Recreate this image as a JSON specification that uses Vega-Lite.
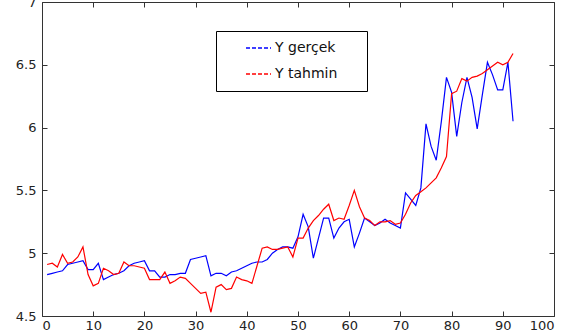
{
  "$schema": "https://vega.github.io/schema/vega-lite/v6.json",
  "width": 512,
  "height": 314,
  "autosize": "none",
  "padding": {"left": 42, "top": 2, "right": 22, "bottom": 17},
  "background": "white",
  "config": {
    "view": {"stroke": null},
    "font": "DejaVu Sans",
    "axis": {
      "grid": false,
      "domainColor": "#333333",
      "domainWidth": 1,
      "tickColor": "#333333",
      "tickWidth": 1,
      "labelColor": "#222222",
      "labelFont": "DejaVu Sans",
      "labelFontSize": 12,
      "tickSize": 5,
      "title": null
    },
    "legend": {
      "orient": "none",
      "legendX": 174,
      "legendY": 29,
      "strokeColor": "#000000",
      "fillColor": "white",
      "padding": 9,
      "symbolType": "stroke",
      "symbolSize": 625,
      "symbolStrokeWidth": 1.5,
      "symbolDash": [4, 2],
      "symbolOffset": 20,
      "labelOffset": 3,
      "clipHeight": 16,
      "labelFont": "DejaVu Sans",
      "labelFontSize": 14,
      "labelColor": "#111111",
      "rowPadding": 10,
      "title": null
    }
  },
  "data": {
    "values": [
      {"x":1,"v":4.83,"s":"Y gerçek"},{"x":2,"v":4.84,"s":"Y gerçek"},{"x":3,"v":4.85,"s":"Y gerçek"},{"x":4,"v":4.86,"s":"Y gerçek"},{"x":5,"v":4.91,"s":"Y gerçek"},{"x":6,"v":4.92,"s":"Y gerçek"},{"x":7,"v":4.93,"s":"Y gerçek"},{"x":8,"v":4.94,"s":"Y gerçek"},{"x":9,"v":4.87,"s":"Y gerçek"},{"x":10,"v":4.87,"s":"Y gerçek"},
      {"x":11,"v":4.92,"s":"Y gerçek"},{"x":12,"v":4.79,"s":"Y gerçek"},{"x":13,"v":4.81,"s":"Y gerçek"},{"x":14,"v":4.83,"s":"Y gerçek"},{"x":15,"v":4.84,"s":"Y gerçek"},{"x":16,"v":4.86,"s":"Y gerçek"},{"x":17,"v":4.90,"s":"Y gerçek"},{"x":18,"v":4.92,"s":"Y gerçek"},{"x":19,"v":4.93,"s":"Y gerçek"},{"x":20,"v":4.94,"s":"Y gerçek"},
      {"x":21,"v":4.86,"s":"Y gerçek"},{"x":22,"v":4.86,"s":"Y gerçek"},{"x":23,"v":4.81,"s":"Y gerçek"},{"x":24,"v":4.81,"s":"Y gerçek"},{"x":25,"v":4.83,"s":"Y gerçek"},{"x":26,"v":4.83,"s":"Y gerçek"},{"x":27,"v":4.84,"s":"Y gerçek"},{"x":28,"v":4.84,"s":"Y gerçek"},{"x":29,"v":4.95,"s":"Y gerçek"},{"x":30,"v":4.96,"s":"Y gerçek"},
      {"x":31,"v":4.97,"s":"Y gerçek"},{"x":32,"v":4.98,"s":"Y gerçek"},{"x":33,"v":4.82,"s":"Y gerçek"},{"x":34,"v":4.84,"s":"Y gerçek"},{"x":35,"v":4.84,"s":"Y gerçek"},{"x":36,"v":4.82,"s":"Y gerçek"},{"x":37,"v":4.85,"s":"Y gerçek"},{"x":38,"v":4.86,"s":"Y gerçek"},{"x":39,"v":4.88,"s":"Y gerçek"},{"x":40,"v":4.90,"s":"Y gerçek"},
      {"x":41,"v":4.92,"s":"Y gerçek"},{"x":42,"v":4.93,"s":"Y gerçek"},{"x":43,"v":4.93,"s":"Y gerçek"},{"x":44,"v":4.95,"s":"Y gerçek"},{"x":45,"v":5.00,"s":"Y gerçek"},{"x":46,"v":5.03,"s":"Y gerçek"},{"x":47,"v":5.05,"s":"Y gerçek"},{"x":48,"v":5.05,"s":"Y gerçek"},{"x":49,"v":5.04,"s":"Y gerçek"},{"x":50,"v":5.13,"s":"Y gerçek"},
      {"x":51,"v":5.31,"s":"Y gerçek"},{"x":52,"v":5.21,"s":"Y gerçek"},{"x":53,"v":4.96,"s":"Y gerçek"},{"x":54,"v":5.12,"s":"Y gerçek"},{"x":55,"v":5.28,"s":"Y gerçek"},{"x":56,"v":5.28,"s":"Y gerçek"},{"x":57,"v":5.12,"s":"Y gerçek"},{"x":58,"v":5.20,"s":"Y gerçek"},{"x":59,"v":5.25,"s":"Y gerçek"},{"x":60,"v":5.27,"s":"Y gerçek"},
      {"x":61,"v":5.05,"s":"Y gerçek"},{"x":62,"v":5.16,"s":"Y gerçek"},{"x":63,"v":5.28,"s":"Y gerçek"},{"x":64,"v":5.25,"s":"Y gerçek"},{"x":65,"v":5.22,"s":"Y gerçek"},{"x":66,"v":5.24,"s":"Y gerçek"},{"x":67,"v":5.27,"s":"Y gerçek"},{"x":68,"v":5.24,"s":"Y gerçek"},{"x":69,"v":5.22,"s":"Y gerçek"},{"x":70,"v":5.20,"s":"Y gerçek"},
      {"x":71,"v":5.48,"s":"Y gerçek"},{"x":72,"v":5.43,"s":"Y gerçek"},{"x":73,"v":5.38,"s":"Y gerçek"},{"x":74,"v":5.52,"s":"Y gerçek"},{"x":75,"v":6.03,"s":"Y gerçek"},{"x":76,"v":5.85,"s":"Y gerçek"},{"x":77,"v":5.74,"s":"Y gerçek"},{"x":78,"v":6.05,"s":"Y gerçek"},{"x":79,"v":6.40,"s":"Y gerçek"},{"x":80,"v":6.28,"s":"Y gerçek"},
      {"x":81,"v":5.93,"s":"Y gerçek"},{"x":82,"v":6.20,"s":"Y gerçek"},{"x":83,"v":6.40,"s":"Y gerçek"},{"x":84,"v":6.24,"s":"Y gerçek"},{"x":85,"v":5.99,"s":"Y gerçek"},{"x":86,"v":6.26,"s":"Y gerçek"},{"x":87,"v":6.52,"s":"Y gerçek"},{"x":88,"v":6.42,"s":"Y gerçek"},{"x":89,"v":6.30,"s":"Y gerçek"},{"x":90,"v":6.30,"s":"Y gerçek"},
      {"x":91,"v":6.52,"s":"Y gerçek"},{"x":92,"v":6.05,"s":"Y gerçek"},
      {"x":1,"v":4.91,"s":"Y tahmin"},{"x":2,"v":4.92,"s":"Y tahmin"},{"x":3,"v":4.89,"s":"Y tahmin"},{"x":4,"v":4.99,"s":"Y tahmin"},{"x":5,"v":4.92,"s":"Y tahmin"},{"x":6,"v":4.93,"s":"Y tahmin"},{"x":7,"v":4.97,"s":"Y tahmin"},{"x":8,"v":5.05,"s":"Y tahmin"},{"x":9,"v":4.83,"s":"Y tahmin"},{"x":10,"v":4.74,"s":"Y tahmin"},
      {"x":11,"v":4.76,"s":"Y tahmin"},{"x":12,"v":4.88,"s":"Y tahmin"},{"x":13,"v":4.86,"s":"Y tahmin"},{"x":14,"v":4.83,"s":"Y tahmin"},{"x":15,"v":4.84,"s":"Y tahmin"},{"x":16,"v":4.93,"s":"Y tahmin"},{"x":17,"v":4.90,"s":"Y tahmin"},{"x":18,"v":4.90,"s":"Y tahmin"},{"x":19,"v":4.89,"s":"Y tahmin"},{"x":20,"v":4.88,"s":"Y tahmin"},
      {"x":21,"v":4.79,"s":"Y tahmin"},{"x":22,"v":4.79,"s":"Y tahmin"},{"x":23,"v":4.79,"s":"Y tahmin"},{"x":24,"v":4.85,"s":"Y tahmin"},{"x":25,"v":4.76,"s":"Y tahmin"},{"x":26,"v":4.78,"s":"Y tahmin"},{"x":27,"v":4.81,"s":"Y tahmin"},{"x":28,"v":4.80,"s":"Y tahmin"},{"x":29,"v":4.76,"s":"Y tahmin"},{"x":30,"v":4.72,"s":"Y tahmin"},
      {"x":31,"v":4.68,"s":"Y tahmin"},{"x":32,"v":4.69,"s":"Y tahmin"},{"x":33,"v":4.53,"s":"Y tahmin"},{"x":34,"v":4.73,"s":"Y tahmin"},{"x":35,"v":4.75,"s":"Y tahmin"},{"x":36,"v":4.71,"s":"Y tahmin"},{"x":37,"v":4.72,"s":"Y tahmin"},{"x":38,"v":4.81,"s":"Y tahmin"},{"x":39,"v":4.79,"s":"Y tahmin"},{"x":40,"v":4.78,"s":"Y tahmin"},
      {"x":41,"v":4.76,"s":"Y tahmin"},{"x":42,"v":4.90,"s":"Y tahmin"},{"x":43,"v":5.04,"s":"Y tahmin"},{"x":44,"v":5.05,"s":"Y tahmin"},{"x":45,"v":5.03,"s":"Y tahmin"},{"x":46,"v":5.03,"s":"Y tahmin"},{"x":47,"v":5.04,"s":"Y tahmin"},{"x":48,"v":5.05,"s":"Y tahmin"},{"x":49,"v":4.97,"s":"Y tahmin"},{"x":50,"v":5.12,"s":"Y tahmin"},
      {"x":51,"v":5.12,"s":"Y tahmin"},{"x":52,"v":5.20,"s":"Y tahmin"},{"x":53,"v":5.26,"s":"Y tahmin"},{"x":54,"v":5.30,"s":"Y tahmin"},{"x":55,"v":5.35,"s":"Y tahmin"},{"x":56,"v":5.39,"s":"Y tahmin"},{"x":57,"v":5.26,"s":"Y tahmin"},{"x":58,"v":5.28,"s":"Y tahmin"},{"x":59,"v":5.27,"s":"Y tahmin"},{"x":60,"v":5.38,"s":"Y tahmin"},
      {"x":61,"v":5.50,"s":"Y tahmin"},{"x":62,"v":5.37,"s":"Y tahmin"},{"x":63,"v":5.28,"s":"Y tahmin"},{"x":64,"v":5.26,"s":"Y tahmin"},{"x":65,"v":5.22,"s":"Y tahmin"},{"x":66,"v":5.25,"s":"Y tahmin"},{"x":67,"v":5.25,"s":"Y tahmin"},{"x":68,"v":5.26,"s":"Y tahmin"},{"x":69,"v":5.23,"s":"Y tahmin"},{"x":70,"v":5.24,"s":"Y tahmin"},
      {"x":71,"v":5.31,"s":"Y tahmin"},{"x":72,"v":5.40,"s":"Y tahmin"},{"x":73,"v":5.46,"s":"Y tahmin"},{"x":74,"v":5.49,"s":"Y tahmin"},{"x":75,"v":5.52,"s":"Y tahmin"},{"x":76,"v":5.56,"s":"Y tahmin"},{"x":77,"v":5.60,"s":"Y tahmin"},{"x":78,"v":5.68,"s":"Y tahmin"},{"x":79,"v":5.77,"s":"Y tahmin"},{"x":80,"v":6.27,"s":"Y tahmin"},
      {"x":81,"v":6.29,"s":"Y tahmin"},{"x":82,"v":6.39,"s":"Y tahmin"},{"x":83,"v":6.37,"s":"Y tahmin"},{"x":84,"v":6.40,"s":"Y tahmin"},{"x":85,"v":6.41,"s":"Y tahmin"},{"x":86,"v":6.43,"s":"Y tahmin"},{"x":87,"v":6.46,"s":"Y tahmin"},{"x":88,"v":6.49,"s":"Y tahmin"},{"x":89,"v":6.52,"s":"Y tahmin"},{"x":90,"v":6.50,"s":"Y tahmin"},
      {"x":91,"v":6.52,"s":"Y tahmin"},{"x":92,"v":6.59,"s":"Y tahmin"}
    ]
  },
  "layer": [
    {
      "mark": {"type": "line", "strokeWidth": 1.2},
      "encoding": {
        "x": {"field": "x", "type": "quantitative", "scale": {"domain": [0, 100], "nice": false},
              "axis": {"orient": "bottom", "ticks": false, "values": [0,10,20,30,40,50,60,70,80,90,100], "labelPadding": 3, "labelFontSize": 13}},
        "y": {"field": "v", "type": "quantitative", "scale": {"domain": [4.5, 7], "nice": false, "zero": false},
              "axis": {"orient": "left", "ticks": false, "values": [4.5,5,5.5,6,6.5,7], "format": "~g", "labelPadding": 6, "labelFontSize": 13}},
        "color": {"field": "s", "type": "nominal",
                  "scale": {"domain": ["Y gerçek", "Y tahmin"], "range": ["#0000ff", "#ff0000"]},
                  "legend": {"labelExpr": "datum.label + '\u2800\u2800'"}}
      }
    },
    {
      "mark": {"type": "line", "strokeOpacity": 0},
      "encoding": {
        "x": {"field": "x", "type": "quantitative",
              "axis": {"orient": "bottom", "offset": -314, "labels": false, "values": [0,10,20,30,40,50,60,70,80,90,100]}},
        "y": {"field": "v", "type": "quantitative",
              "axis": {"orient": "left", "offset": -512, "labels": false, "values": [4.5,5,5.5,6,6.5,7]}},
        "detail": {"field": "s"}
      }
    },
    {
      "mark": {"type": "line", "strokeOpacity": 0},
      "encoding": {
        "x": {"field": "x", "type": "quantitative",
              "axis": {"orient": "bottom", "offset": -5, "labels": false, "domain": false, "values": [0,10,20,30,40,50,60,70,80,90,100]}},
        "y": {"field": "v", "type": "quantitative",
              "axis": {"orient": "left", "offset": -5, "labels": false, "domain": false, "values": [4.5,5,5.5,6,6.5,7]}},
        "detail": {"field": "s"}
      }
    }
  ],
  "resolve": {"axis": {"x": "independent", "y": "independent"}}
}
